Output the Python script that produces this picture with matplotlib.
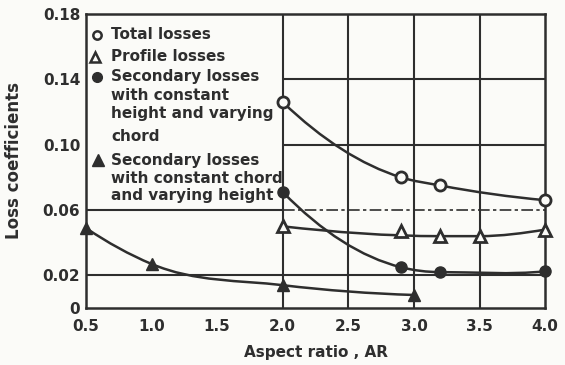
import numpy as np
import matplotlib
matplotlib.use('Agg')
import matplotlib.pyplot as plt
from matplotlib.path import Path
from matplotlib.patches import PathPatch

# loss coefficients vs aspect ratio
ar_total = [2.0, 2.9, 3.2, 4.0]
total = [0.126, 0.080, 0.075, 0.066]

ar_profile = [2.0, 2.9, 3.2, 3.5, 4.0]
profile = [0.050, 0.047, 0.044, 0.044, 0.048]
profile_on_curve = [True, False, True, True, True]

ar_sec_chord = [2.0, 2.9, 3.2, 4.0]
sec_chord = [0.071, 0.025, 0.022, 0.0225]

ar_sec_height = [0.5, 1.0, 2.0, 3.0]
sec_height = [0.049, 0.027, 0.014, 0.008]

xticks = [0.5, 1.0, 1.5, 2.0, 2.5, 3.0, 3.5, 4.0]
yticks = [0, 0.02, 0.06, 0.10, 0.14, 0.18]
yticklabels = ['0', '0.02', '0.06', '0.10', '0.14', '0.18']

ink = '#2e2e2e'
paper = '#fbfbf8'


def slopes(x, y):
    # three point derivative estimates for a hermite curve in x
    h = np.diff(x)
    d = np.diff(y) / h
    m = np.zeros(len(x))
    if len(x) == 2:
        return np.array([d[0], d[0]])
    for i in range(1, len(x) - 1):
        m[i] = (h[i - 1] * d[i] + h[i] * d[i - 1]) / (h[i - 1] + h[i])
        if d[i - 1] * d[i] <= 0:
            m[i] = 0.0
    m[0] = ((2 * h[0] + h[1]) * d[0] - h[0] * d[1]) / (h[0] + h[1])
    if m[0] * d[0] <= 0:
        m[0] = 0.0
    m[-1] = ((2 * h[-1] + h[-2]) * d[-1] - h[-1] * d[-2]) / (h[-1] + h[-2])
    if m[-1] * d[-1] <= 0:
        m[-1] = 0.0
    return m


def smooth_path(xs, ys):
    x = np.asarray(xs, float)
    y = np.asarray(ys, float)
    m = slopes(x, y)
    verts = [(x[0], y[0])]
    codes = [Path.MOVETO]
    for i in range(len(x) - 1):
        h = x[i + 1] - x[i]
        verts += [(x[i] + h / 3, y[i] + m[i] * h / 3),
                  (x[i + 1] - h / 3, y[i + 1] - m[i + 1] * h / 3),
                  (x[i + 1], y[i + 1])]
        codes += [Path.CURVE4] * 3
    return Path(verts, codes)


def curve(ax, xs, ys):
    ax.add_patch(PathPatch(smooth_path(xs, ys), fill=False, edgecolor=ink,
                           lw=1.8, zorder=3))


fig = plt.figure(figsize=(5.65, 3.65), dpi=100, facecolor=paper)
ax = fig.add_axes([0.152, 0.156, 0.813, 0.806], facecolor=paper)
ax.set_xlim(0.5, 4.0)
ax.set_ylim(0, 0.18)

# grid, legend box sits in the upper left cell block
ax.hlines([0.02, 0.06], 0.5, 2.0, color=ink, lw=1.5, zorder=1)
ax.hlines([0.02], 2.0, 4.0, color=ink, lw=1.5, zorder=1)
ax.hlines([0.06], 2.0, 4.0, color=ink, lw=1.2, linestyles=(0, (7, 2, 2, 2)), zorder=1)
ax.hlines([0.10, 0.14], 2.0, 4.0, color=ink, lw=1.5, zorder=1)
ax.vlines([2.0, 2.5, 3.0, 3.5], 0, 0.18, color=ink, lw=1.5, zorder=1)

curve(ax, ar_total, total)
curve(ax, [x for x, k in zip(ar_profile, profile_on_curve) if k],
      [y for y, k in zip(profile, profile_on_curve) if k])
curve(ax, ar_sec_chord, sec_chord)
curve(ax, ar_sec_height, sec_height)

mk = dict(linestyle='none', color=ink, clip_on=False, zorder=4)
ax.plot(ar_total, total, marker='o', ms=8, mfc=paper, mew=2, **mk)
ax.plot(ar_profile, profile, marker='^', ms=9, mfc=paper, mew=2, **mk)
ax.plot(ar_sec_chord, sec_chord, marker='o', ms=8, mfc=ink, **mk)
ax.plot(ar_sec_height, sec_height, marker='^', ms=9, mfc=ink, **mk)

for s in ax.spines.values():
    s.set_linewidth(1.8)
    s.set_color(ink)

ax.set_xticks(xticks)
ax.set_xticklabels(['%.1f' % v for v in xticks])
ax.set_yticks(yticks)
ax.set_yticklabels(yticklabels)
ax.tick_params(axis='x', length=0, pad=8, colors=ink, labelsize=11)
ax.tick_params(axis='y', length=0, pad=4, colors=ink, labelsize=11)
for lbl in ax.get_xticklabels() + ax.get_yticklabels():
    lbl.set_fontweight('bold')

ax.set_xlabel('Aspect ratio , AR', fontsize=11, fontweight='bold', color=ink, labelpad=8)
ax.set_ylabel('Loss coefficients', fontsize=12, fontweight='bold', color=ink, labelpad=14)

# legend
tx = dict(transform=ax.transAxes, fontsize=11, fontweight='bold', color=ink,
          va='center', ha='left')
lx = 0.055
ax.text(lx, 0.929, 'Total losses', **tx)
ax.text(lx, 0.854, 'Profile losses', **tx)
ax.text(lx, 0.786, 'Secondary losses', **tx)
ax.text(lx, 0.724, 'with constant', **tx)
ax.text(lx, 0.663, 'height and varying', **tx)
ax.text(lx, 0.582, 'chord', **tx)
ax.text(lx, 0.503, 'Secondary losses', **tx)
ax.text(lx, 0.442, 'with constant chord', **tx)
ax.text(lx, 0.381, 'and varying height', **tx)

lk = dict(transform=ax.transAxes, linestyle='none', color=ink, zorder=4)
ax.plot([0.024], [0.929], marker='o', ms=6, mfc=paper, mew=1.8, **lk)
ax.plot([0.020], [0.854], marker='^', ms=7, mfc=paper, mew=1.8, **lk)
ax.plot([0.024], [0.786], marker='o', ms=7, mfc=ink, **lk)
ax.plot([0.026], [0.503], marker='^', ms=8, mfc=ink, **lk)

fig.savefig('out.png', dpi=100, facecolor=paper)
